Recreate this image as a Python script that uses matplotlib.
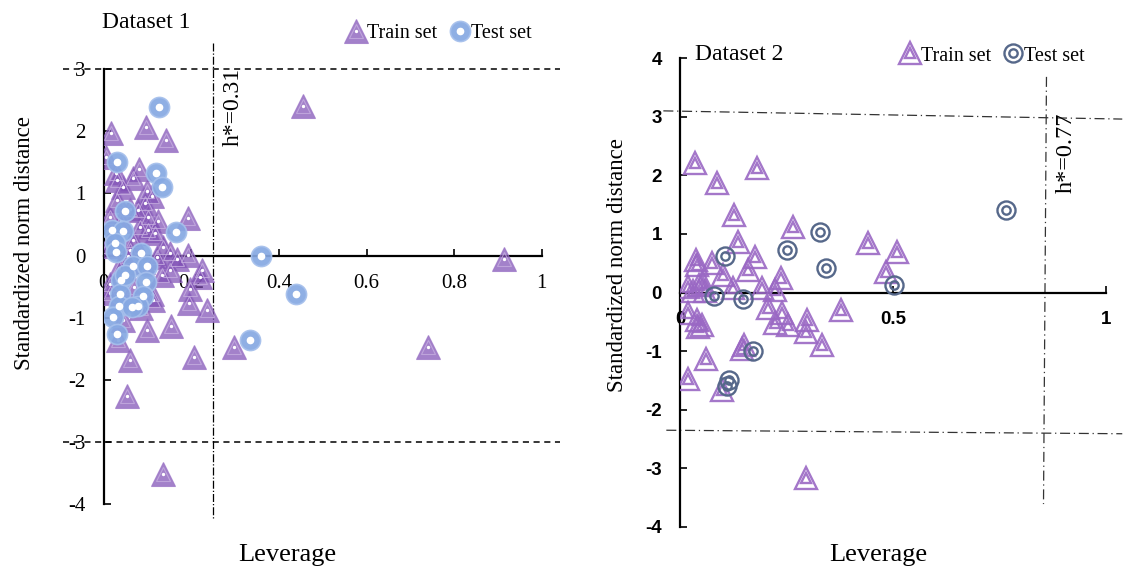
import matplotlib
matplotlib.use('Agg')
import matplotlib.pyplot as plt

plt.rcParams['font.family'] = ['Liberation Serif', 'DejaVu Serif']

# ---- Dataset 1 (leverage, standardized residual) ----
d1_train_x = [0.018, 0.097, 0.142, 0.005, 0.081, 0.068, 0.030, 0.028, 0.098, 0.110,
              0.045, 0.095, 0.030, 0.102, 0.079, 0.192, 0.102, 0.117, 0.083, 0.015,
              0.022, 0.068, 0.136, 0.152, 0.193, 0.060, 0.040, 0.055, 0.090, 0.070,
              0.035, 0.125, 0.060, 0.010, 0.085,
              0.220, 0.197, 0.195, 0.235, 0.098, 0.154, 0.060, 0.207, 0.054, 0.298,
              0.032, 0.152, 0.133, 0.015, 0.045, 0.015, 0.110, 0.113, 0.121, 0.167,
              0.224, 0.456, 0.913, 0.741, 0.136]
d1_train_y = [1.97, 2.06, 1.86, 1.59, 1.39, 1.24, 1.21, 1.32, 1.03, 0.95,
              1.11, 0.84, 0.89, 0.62, 0.73, 0.60, 0.41, 0.36, 0.46, 0.62,
              0.30, 0.25, 0.14, 0.04, 0.01, 0.09, 0.55, 0.00, -0.10, -0.50,
              -0.20, 0.55, 0.75, 0.15, -0.85,
              -0.34, -0.53, -0.77, -0.87, -1.20, -1.13, -1.68, -1.63, -2.25, -1.47,
              -1.35, -0.23, -0.31, -0.45, -1.04, -0.60, -0.61, -0.72, -0.02, -0.05,
              -0.23, 2.41, -0.05, -1.47, -3.51]
d1_test_x = [0.127, 0.030, 0.119, 0.134, 0.048, 0.165, 0.020, 0.045, 0.026, 0.028,
             0.085, 0.359, 0.068, 0.100, 0.039, 0.097, 0.037, 0.091, 0.034, 0.079,
             0.064, 0.022, 0.030, 0.333, 0.049, 0.440]
d1_test_y = [2.38, 1.50, 1.33, 1.10, 0.72, 0.38, 0.41, 0.40, 0.20, 0.05,
             0.04, 0.00, -0.16, -0.16, -0.39, -0.43, -0.61, -0.65, -0.81, -0.81,
             -0.83, -0.98, -1.26, -1.36, -0.31, -0.61]

# ---- Dataset 2 ----
d2_train_x = [0.035, 0.180, 0.088, 0.127, 0.265, 0.137, 0.442, 0.511, 0.037, 0.039,
              0.076, 0.176, 0.160, 0.102, 0.237, 0.485, 0.045, 0.125, 0.192, 0.223,
              0.019, 0.054, 0.030, 0.060,
              0.020, 0.039, 0.051, 0.043, 0.207, 0.239, 0.223, 0.254, 0.299, 0.297,
              0.334, 0.378, 0.150, 0.145, 0.061, 0.020, 0.098, 0.297]
d2_train_y = [2.21, 2.13, 1.87, 1.32, 1.12, 0.87, 0.84, 0.70, 0.55, 0.47,
              0.50, 0.61, 0.38, 0.30, 0.24, 0.35, 0.13, 0.07, 0.07, 0.04,
              0.10, 0.17, 0.02, 0.03,
              -0.35, -0.47, -0.55, -0.58, -0.27, -0.35, -0.52, -0.55, -0.47, -0.67,
              -0.89, -0.30, -0.89, -0.97, -1.14, -1.48, -1.66, -3.16]
d2_test_x = [0.765, 0.330, 0.252, 0.107, 0.344, 0.502, 0.080, 0.149, 0.172, 0.116, 0.110]
d2_test_y = [1.40, 1.04, 0.73, 0.63, 0.41, 0.12, -0.06, -0.11, -1.00, -1.49, -1.60]

d1_ticks_x = [0, 0.2, 0.4, 0.6, 0.8, 1]
d1_ticks_y = [-4, -3, -2, -1, 0, 1, 2, 3]
d2_ticks_x = [0, 0.5, 1]
d2_ticks_y = [-4, -3, -2, -1, 0, 1, 2, 3, 4]

fig = plt.figure(figsize=(11.25, 5.71), dpi=100)
ax1 = fig.add_axes([0.0921, 0.1166, 0.3895, 0.7627])
ax2 = fig.add_axes([0.6044, 0.0772, 0.3784, 0.8210])


def setup_axis(ax, xt, yt, ylim, font, weight, size):
    ax.set_xlim(0, 1)
    ax.set_ylim(*ylim)
    for s in ['top', 'right']:
        ax.spines[s].set_visible(False)
    ax.spines['bottom'].set_position(('data', 0))
    ax.spines['bottom'].set_linewidth(1.6)
    ax.spines['left'].set_linewidth(1.6)
    ax.set_xticks(xt)
    ax.set_yticks(yt)
    ax.set_xticklabels([f'{v:g}' for v in xt], family=font, weight=weight, size=size)
    ax.set_yticklabels([f'{v:g}' for v in yt], family=font, weight=weight, size=size)
    ax.tick_params(direction='in', length=5, width=1.2)
    ax.tick_params(axis='x', pad=13)
    ax.tick_params(axis='y', pad=13)
    ax.patch.set_alpha(0)


setup_axis(ax1, d1_ticks_x, d1_ticks_y, (-4, 3), 'Liberation Serif', 'normal', 15)
setup_axis(ax2, d2_ticks_x, d2_ticks_y, (-4, 4), 'Liberation Sans', 'bold', 13.5)

# ---- panel 1 markers ----
tri1 = ax1.plot(d1_train_x, d1_train_y, ls='none', marker='^', ms=17,
                mfc='#8050b6', mec='#9a73c6', mew=0.8, alpha=0.72, zorder=3)[0]
tri1i = ax1.plot(d1_train_x, d1_train_y, ls='none', marker='^', ms=9.5,
                 mfc='none', mec='#c6aee0', mew=0.8, alpha=0.8, zorder=3)[0]
tri1d = ax1.plot(d1_train_x, d1_train_y, ls='none', marker='o', ms=1.4,
                 mfc='white', mec='white', zorder=3)[0]
cir1 = ax1.plot(d1_test_x, d1_test_y, ls='none', marker='o', ms=14.5,
                mfc='#86a8e2', mec='#a6c0ec', mew=1.2, alpha=0.92, zorder=4)[0]
cir1d = ax1.plot(d1_test_x, d1_test_y, ls='none', marker='o', ms=4.5,
                 mfc='white', mec='white', zorder=4)[0]

# limits panel 1
ax1.plot([-0.093, 1.042], [3, 3], ls=(0, (4, 3)), color='black', lw=1.1, clip_on=False)
ax1.plot([-0.093, 1.042], [-3, -3], ls=(0, (4, 3)), color='black', lw=1.1, clip_on=False)
ax1.plot([0.25, 0.25], [3.41, -4.22], ls='-.', color='black', lw=0.9, clip_on=False)
ax1.text(0.296, 2.39, 'h*=0.31', rotation=90, ha='center', va='center', fontsize=17)

# ---- panel 2 markers ----
tri2 = ax2.plot(d2_train_x, d2_train_y, ls='none', marker='^', ms=16.5,
                mfc='none', mec='#9a68c4', mew=1.7, alpha=0.9, zorder=3)[0]
tri2i = ax2.plot(d2_train_x, d2_train_y, ls='none', marker='^', ms=7,
                 mfc='none', mec='#9a68c4', mew=1.7, alpha=0.9, zorder=3)[0]
cir2 = ax2.plot(d2_test_x, d2_test_y, ls='none', marker='o', ms=13,
                mfc='none', mec='#56688a', mew=1.7, zorder=4)[0]
cir2i = ax2.plot(d2_test_x, d2_test_y, ls='none', marker='o', ms=6,
                 mfc='none', mec='#56688a', mew=1.7, zorder=4)[0]

ax2.plot([-0.039, 1.039], [3.10, 2.96], ls=(0, (8, 3, 1, 3)), color='#333333', lw=0.9, clip_on=False)
ax2.plot([-0.032, 1.039], [-2.35, -2.41], ls=(0, (8, 3, 1, 3)), color='#333333', lw=0.9, clip_on=False)
ax2.plot([0.861, 0.854], [3.68, -3.61], ls=(0, (8, 3, 1, 3)), color='#333333', lw=0.9, clip_on=False)
ax2.text(0.908, 2.38, 'h*=0.77', rotation=90, ha='center', va='center', fontsize=17.5)

# ---- titles, legends, labels ----
fig.text(0.0907, 0.960, 'Dataset 1', fontsize=17, va='center', ha='left')
fig.text(0.618, 0.904, 'Dataset 2', fontsize=17, va='center', ha='left')

leg_kw = dict(frameon=False, ncol=2, handlelength=1.0, handletextpad=0.05,
              columnspacing=0.6, fontsize=14.5, borderpad=0, loc='center',
              bbox_transform=fig.transFigure)
ax1.legend([(tri1, tri1i, tri1d), (cir1, cir1d)], ['Train set', 'Test set'],
           bbox_to_anchor=(0.390, 0.942), **leg_kw)
ax2.legend([(tri2, tri2i), (cir2, cir2i)], ['Train set', 'Test set'],
           bbox_to_anchor=(0.882, 0.902), **leg_kw)

fig.text(0.022, 0.574, 'Standardized norm distance', rotation=90, fontsize=16.5,
         ha='center', va='center')
fig.text(0.549, 0.536, 'Standardized norm distance', rotation=90, fontsize=16.5,
         ha='center', va='center')
fig.text(0.255, 0.028, 'Leverage', fontsize=19, ha='center', va='center')
fig.text(0.781, 0.028, 'Leverage', fontsize=19, ha='center', va='center')

fig.savefig('out.png', dpi=100)
